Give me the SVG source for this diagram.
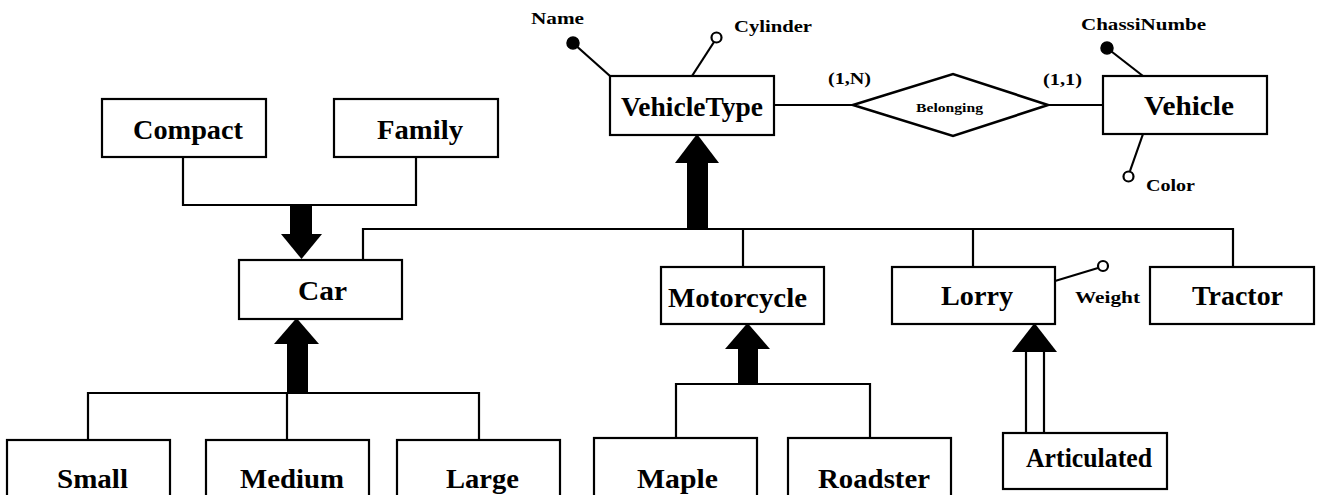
<svg xmlns="http://www.w3.org/2000/svg" width="1322" height="495" viewBox="0 0 1322 495">
  <style>
    .box { fill: #ffffff; stroke: #000000; stroke-width: 2.2; }
    .lbl { font-family: "Liberation Serif", "Times New Roman", serif; font-weight: bold; font-size: 27px; fill: #000000; }
    .small { font-family: "Liberation Serif", "Times New Roman", serif; font-weight: bold; font-size: 16px; fill: #000000; }
    .tiny { font-family: "Liberation Serif", "Times New Roman", serif; font-weight: bold; font-size: 12px; fill: #000000; }
    .ln { fill: none; stroke: #000000; stroke-width: 2.2; }
    .solid { fill: #000000; stroke: none; }
    .dotf { fill: #000000; stroke: #000000; stroke-width: 1.5; }
    .doto { fill: #ffffff; stroke: #000000; stroke-width: 2.2; }
  </style>

  <rect width="1322" height="495" fill="#ffffff"/>

  <!-- connectors -->
  <g id="connectors">
    <!-- Compact / Family into Car -->
    <polyline class="ln" points="183,157 183,205 416,205 416,157"/>
    <rect class="solid" x="290" y="204" width="22" height="31"/>
    <polygon class="solid" points="281,234 322,234 301.5,259"/>

    <!-- VehicleType specialisation bus -->
    <polyline class="ln" points="363,260 363,229 1233,229 1233,267"/>
    <line class="ln" x1="743" y1="229" x2="743" y2="267"/>
    <line class="ln" x1="973" y1="229" x2="973" y2="267"/>
    <rect class="solid" x="687" y="162" width="21" height="68"/>
    <polygon class="solid" points="675,163 719,163 697,134"/>

    <!-- Car subtypes -->
    <polyline class="ln" points="88,440 88,393 479,393 479,440"/>
    <line class="ln" x1="287" y1="393" x2="287" y2="440"/>
    <rect class="solid" x="287" y="343" width="21" height="51"/>
    <polygon class="solid" points="274,344 319,344 296.5,318"/>

    <!-- Motorcycle subtypes -->
    <polyline class="ln" points="676,438 676,384 870,384 870,438"/>
    <rect class="solid" x="738" y="348" width="20" height="37"/>
    <polygon class="solid" points="725,349 770,349 747.5,323"/>

    <!-- Lorry subtype (double line) -->
    <line class="ln" x1="1026" y1="433" x2="1026" y2="351"/>
    <line class="ln" x1="1044" y1="433" x2="1044" y2="351"/>
    <polygon class="solid" points="1012,352 1057,352 1034.5,323"/>

    <!-- Belonging relationship -->
    <line class="ln" x1="774" y1="105" x2="853" y2="105"/>
    <line class="ln" x1="1048" y1="105" x2="1103" y2="105"/>

    <!-- attribute stems -->
    <line class="ln" x1="573" y1="43" x2="610" y2="76"/>
    <line class="ln" x1="692" y1="76" x2="714" y2="42"/>
    <line class="ln" x1="1107" y1="48" x2="1143" y2="76"/>
    <line class="ln" x1="1143" y1="134" x2="1130" y2="171"/>
    <line class="ln" x1="1055" y1="281" x2="1098" y2="268"/>
  </g>

  <!-- attribute markers and labels -->
  <g id="attr-name">
    <circle class="dotf" cx="573" cy="43" r="6"/>
    <text class="small" x="531" y="24" font-size="15" textLength="53" lengthAdjust="spacingAndGlyphs">Name</text>
  </g>
  <g id="attr-cylinder">
    <circle class="doto" cx="716.5" cy="37.5" r="5"/>
    <text class="small" x="734" y="32" textLength="78" lengthAdjust="spacingAndGlyphs">Cylinder</text>
  </g>
  <g id="attr-chassis">
    <circle class="dotf" cx="1107" cy="48" r="6"/>
    <text class="small" x="1081" y="30" textLength="125" lengthAdjust="spacingAndGlyphs">ChassiNumbe</text>
  </g>
  <g id="attr-color">
    <circle class="doto" cx="1128.5" cy="176.5" r="5"/>
    <text class="small" x="1146" y="191" textLength="49" lengthAdjust="spacingAndGlyphs">Color</text>
  </g>
  <g id="attr-weight">
    <circle class="doto" cx="1103" cy="266" r="5"/>
    <text class="small" x="1075" y="303" textLength="65" lengthAdjust="spacingAndGlyphs">Weight</text>
  </g>

  <!-- cardinalities -->
  <text class="small" x="828" y="84" font-size="17" textLength="43" lengthAdjust="spacingAndGlyphs">(1,N)</text>
  <text class="small" x="1043" y="85" font-size="17" textLength="39" lengthAdjust="spacingAndGlyphs">(1,1)</text>

  <!-- relationship -->
  <g id="belonging">
    <polygon fill="#ffffff" stroke="#000000" stroke-width="2.6" points="853,105 953,74 1048,105 953,136"/>
    <text class="tiny" x="916" y="112" textLength="67" lengthAdjust="spacingAndGlyphs">Belonging</text>
  </g>

  <!-- entities -->
  <g id="compact">
    <rect class="box" x="102" y="99" width="164" height="58"/>
    <text class="lbl" x="133" y="139" textLength="110" lengthAdjust="spacingAndGlyphs">Compact</text>
  </g>
  <g id="family">
    <rect class="box" x="334" y="99" width="164" height="58"/>
    <text class="lbl" x="377" y="139" textLength="86" lengthAdjust="spacingAndGlyphs">Family</text>
  </g>
  <g id="vehicletype">
    <rect class="box" x="610" y="76" width="164" height="59"/>
    <text class="lbl" x="621" y="116" textLength="142" lengthAdjust="spacingAndGlyphs">VehicleType</text>
  </g>
  <g id="vehicle">
    <rect class="box" x="1103" y="76" width="164" height="58"/>
    <text class="lbl" x="1144" y="115" font-size="28" textLength="90" lengthAdjust="spacingAndGlyphs">Vehicle</text>
  </g>
  <g id="car">
    <rect class="box" x="239" y="260" width="163" height="59"/>
    <text class="lbl" x="298" y="300" textLength="49" lengthAdjust="spacingAndGlyphs">Car</text>
  </g>
  <g id="motorcycle">
    <rect class="box" x="661" y="267" width="163" height="57"/>
    <text class="lbl" x="668" y="307" textLength="139" lengthAdjust="spacingAndGlyphs">Motorcycle</text>
  </g>
  <g id="lorry">
    <rect class="box" x="892" y="267" width="163" height="57"/>
    <text class="lbl" x="941" y="305" textLength="72" lengthAdjust="spacingAndGlyphs">Lorry</text>
  </g>
  <g id="tractor">
    <rect class="box" x="1150" y="267" width="164" height="57"/>
    <text class="lbl" x="1192" y="305" textLength="91" lengthAdjust="spacingAndGlyphs">Tractor</text>
  </g>
  <g id="small">
    <rect class="box" x="7" y="440" width="163" height="62"/>
    <text class="lbl" x="57" y="488" textLength="71" lengthAdjust="spacingAndGlyphs">Small</text>
  </g>
  <g id="medium">
    <rect class="box" x="206" y="440" width="163" height="62"/>
    <text class="lbl" x="240" y="488" textLength="104" lengthAdjust="spacingAndGlyphs">Medium</text>
  </g>
  <g id="large">
    <rect class="box" x="397" y="440" width="163" height="62"/>
    <text class="lbl" x="446" y="488" textLength="73" lengthAdjust="spacingAndGlyphs">Large</text>
  </g>
  <g id="maple">
    <rect class="box" x="594" y="438" width="163" height="64"/>
    <text class="lbl" x="637" y="488" textLength="81" lengthAdjust="spacingAndGlyphs">Maple</text>
  </g>
  <g id="roadster">
    <rect class="box" x="788" y="438" width="163" height="64"/>
    <text class="lbl" x="818" y="488" textLength="112" lengthAdjust="spacingAndGlyphs">Roadster</text>
  </g>
  <g id="articulated">
    <rect class="box" x="1003" y="433" width="164" height="56"/>
    <text class="lbl" x="1026" y="467" font-size="26" textLength="126" lengthAdjust="spacingAndGlyphs">Articulated</text>
  </g>
</svg>
